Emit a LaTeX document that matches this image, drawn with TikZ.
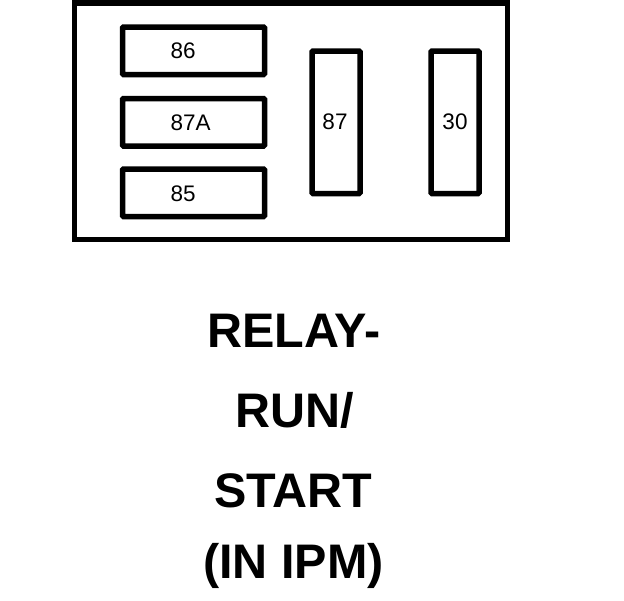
\documentclass[tikz,border=0pt]{standalone}
\usepackage{fontspec}
\setmainfont{Liberation Sans}
\begin{document}
\begin{tikzpicture}[x=1pt,y=-1pt,
  outerbox/.style={draw=black,line width=5.5pt},
  pinbox/.style={draw=black,line width=5.5pt,rounded corners=1pt},
  pinlbl/.style={inner sep=0pt,font=\fontsize{22.5}{22.5}\selectfont},
  title/.style={inner sep=0pt,font=\fontsize{48.5}{48.5}\selectfont\bfseries}]
\useasboundingbox (0,0) rectangle (624,600);
\fill[white] (0,0) rectangle (624,600);
\draw[outerbox] (74.5,3) rectangle (507.5,239.7);
\draw[pinbox] (122.5,27) rectangle (264.5,74.5);
\draw[pinbox] (122.5,98.5) rectangle (264.5,146);
\draw[pinbox] (122.5,169) rectangle (264.5,216.5);
\draw[pinbox] (312,51) rectangle (360,193.5);
\draw[pinbox] (431,51) rectangle (479,193.5);
\node[pinlbl,anchor=west] (p86) at (170.5,51) {86};
\node[pinlbl,anchor=west] (p87a) at (170.5,123) {87A};
\node[pinlbl,anchor=west] (p85) at (170.5,194) {85};
\node[pinlbl] (p87) at (335,122) {87};
\node[pinlbl] (p30) at (455,122) {30};
\node[title] (t1) at (294,331) {RELAY-};
\node[title] (t2) at (295,410.5) {RUN/};
\node[title] (t3) at (293.5,490.5) {START};
\node[title] (t4) at (293.5,566) {(IN IPM)};
\end{tikzpicture}
\end{document}
